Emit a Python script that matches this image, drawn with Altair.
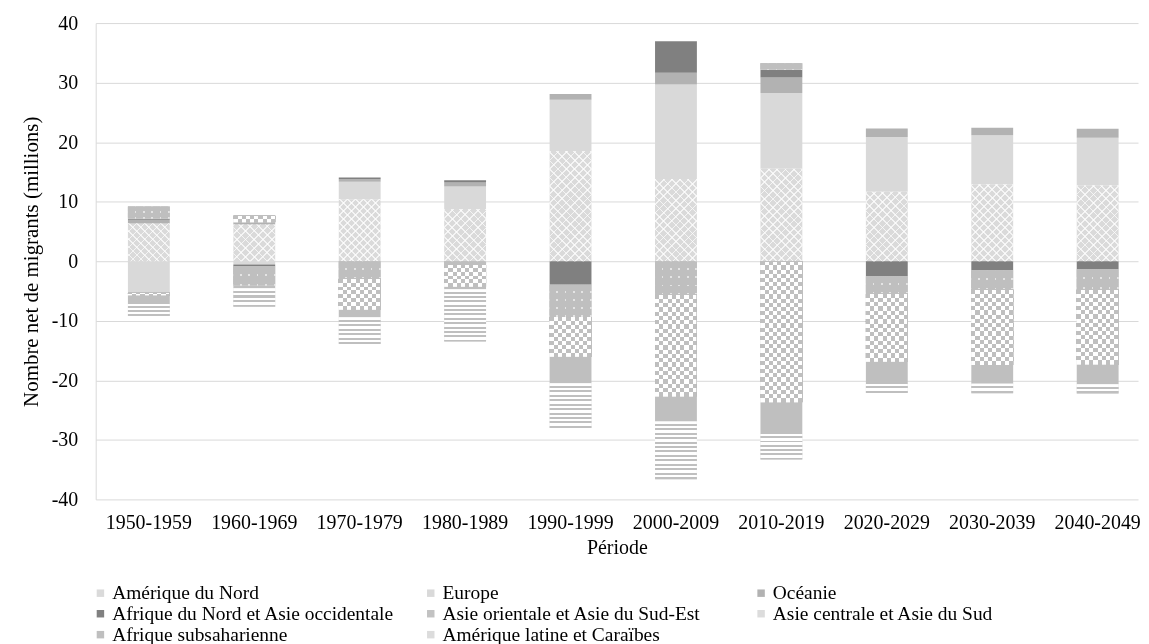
import altair as alt

# ---------------- data ----------------
periods = ["1950-1959", "1960-1969", "1970-1979", "1980-1989", "1990-1999",
           "2000-2009", "2010-2019", "2020-2029", "2030-2039", "2040-2049"]

series = ["Amérique du Nord", "Europe", "Océanie",
          "Afrique du Nord et Asie occidentale",
          "Asie orientale et Asie du Sud-Est",
          "Asie centrale et Asie du Sud",
          "Afrique subsaharienne",
          "Amérique latine et Caraïbes"]

amerique_nord = [6.35, 6.15, 10.43, 8.76, 18.5, 13.8, 15.55, 11.65, 12.95, 12.78]
europe = [-5.3, -0.55, 2.9, 3.78, 8.64, 15.9, 12.7, 9.2, 8.2, 7.96]
oceanie = [0.6, 0.4, 0.45, 0.67, 0.95, 1.95, 2.6, 1.45, 1.27, 1.5]
afrique_nord_asie_occ = [0.2, -0.25, 0.27, 0.4, -3.95, 5.3, 1.3, -2.55, -1.5, -1.4]
asie_orientale = [2.05, -3.3, -2.95, -0.6, -5.4, -5.6, 1.1, -2.9, -3.25, -3.33]
asie_centrale_sud = [-0.4, 1.1, -5.2, -3.7, -6.7, -17.1, -23.7, -11.45, -12.67, -12.6]
afrique_subsaharienne = [-1.5, -0.45, -1.25, -0.4, -4.45, -4.2, -5.3, -3.7, -3.15, -3.34]
amerique_latine = [-2.0, -3.1, -4.5, -8.8, -7.5, -9.7, -4.3, -1.55, -1.6, -1.53]

values = [amerique_nord, europe, oceanie, afrique_nord_asie_occ, asie_orientale,
          asie_centrale_sud, afrique_subsaharienne, amerique_latine]

colors = ["#dadada", "#d9d9d9", "#b2b2b2", "#808080", "#c2c2c2",
          "#dcdcdc", "#bfbfbf", "#dcdcdc"]

# ---------------- layout / style ----------------
FONT = "Liberation Serif"
TXT = "#000000"
FS = 20
W, H = 1046, 478
PAD_IN, PAD_OUT, ALIGN = 0.603, 0.245, 0.624
STEP = W / (len(periods) - PAD_IN + 2 * PAD_OUT)
BAR_W = STEP * (1 - PAD_IN)
PX = H / 80.0


def stripes(n, frac, c_first, c_second, x2, y2):
    n = max(1, int(round(n)))
    stops = []
    for i in range(n):
        a, b, c = i / n, (i + frac) / n, (i + 1) / n
        stops += [{"offset": a, "color": c_first}, {"offset": b, "color": c_first},
                  {"offset": b, "color": c_second}, {"offset": c, "color": c_second}]
    return {"gradient": "linear", "x1": 0, "y1": 0, "x2": x2, "y2": y2, "stops": stops}


def diag(w, h, spacing, frac, c_line, c_clear, flip):
    h = max(h, 0.5)
    k = (w + h) / (w * w + h * h)
    n = max(1, int(round((w + h) / spacing)))
    stops = []
    for i in range(n):
        a, b, c = i / n, (i + frac) / n, (i + 1) / n
        stops += [{"offset": a, "color": c_line}, {"offset": b, "color": c_line},
                  {"offset": b, "color": c_clear}, {"offset": c, "color": c_clear}]
    if flip:
        return {"gradient": "linear", "x1": 1, "y1": 0, "x2": 1 - k * w, "y2": k * h, "stops": stops}
    return {"gradient": "linear", "x1": 0, "y1": 0, "x2": k * w, "y2": k * h, "stops": stops}


LINE = "rgba(255,255,255,0.7)"
CLEAR = "rgba(255,255,255,0)"

records = []
for j, (name, vals) in enumerate(zip(series, values)):
    for p, v in zip(periods, vals):
        h = abs(v) * PX
        rec = {"period": p, "series": name, "order": j, "value": v,
               "ga": None, "gb": None, "gc": None, "ge": None}
        if j == 0:
            rec["ga"] = diag(BAR_W, h, 8.3, 0.2, LINE, CLEAR, False)
            rec["gb"] = diag(BAR_W, h, 8.3, 0.2, LINE, CLEAR, True)
        elif j == 7:
            rec["ga"] = stripes(h / 4.33, 0.55, "#ffffff", "#bfbfbf", 0, 1)
        elif j == 5:
            rec["ga"] = stripes(h / 8.4, 0.5, "#000000", "#ffffff", 0, 1)
            rec["gc"] = stripes(BAR_W / 8.4, 0.5, "#000000", "#ffffff", 1, 0)
        elif j == 4:
            rec["ga"] = stripes(h / 8.0, 0.8, "#bfbfbf", "#e4e4e4", 0, 1)
            rec["ge"] = stripes(BAR_W / 8.0, 0.8, "#bfbfbf", "#e4e4e4", 1, 0)
        records.append(rec)

data = alt.Data(values=records)

x_enc = alt.X("period:N", sort=periods,
              scale=alt.Scale(domain=periods, paddingInner=PAD_IN, paddingOuter=PAD_OUT, align=ALIGN),
              axis=alt.Axis(title="Période", labelAngle=0, ticks=False, domain=False, grid=False,
                            labelPadding=13, titlePadding=5,
                            labelFont=FONT, labelFontSize=FS, labelColor=TXT,
                            titleFont=FONT, titleFontSize=FS, titleFontWeight="normal", titleColor=TXT))
y_enc = alt.Y("y0:Q",
              scale=alt.Scale(domain=[-40, 40], nice=False, zero=False),
              axis=alt.Axis(title="Nombre net de migrants (millions)", values=list(range(-40, 41, 10)),
                            labelExpr="'' + datum.value", ticks=False, domain=True,
                            domainColor="#d9d9d9", gridColor="#d9d9d9", grid=True,
                            labelPadding=18, titlePadding=10,
                            labelFont=FONT, labelFontSize=FS, labelColor=TXT,
                            titleFont=FONT, titleFontSize=21, titleFontWeight="normal", titleColor=TXT))
y2_enc = alt.Y2("y1:Q")


def stacked():
    return alt.Chart().transform_stack(
        stack="value", groupby=["period"], as_=["y0", "y1"], offset="zero",
        sort=[alt.SortField(field="order", order="ascending")])


base = stacked().mark_bar().encode(
    x=x_enc, y=y_enc, y2=y2_enc,
    color=alt.Color("series:N", sort=series,
                    scale=alt.Scale(domain=series, range=colors),
                    legend=alt.Legend(title=None, orient="none", legendX=-5, legendY=562,
                                      direction="horizontal",
                                      columns=3, gridAlign="all", columnPadding=26.5, rowPadding=0,
                                      symbolType="square", symbolSize=56, symbolStrokeWidth=0,
                                      labelOffset=2, labelFont=FONT, labelFontSize=19.5,
                                      labelColor=TXT, labelLimit=400, padding=0)))

layer_a = stacked().transform_filter("isValid(datum.ga)").mark_bar().encode(
    x=x_enc, y=y_enc, y2=y2_enc, fill=alt.Fill("ga:N", scale=None, legend=None))
layer_b = stacked().transform_filter("isValid(datum.gb)").mark_bar().encode(
    x=x_enc, y=y_enc, y2=y2_enc, fill=alt.Fill("gb:N", scale=None, legend=None))
layer_c = stacked().transform_filter("isValid(datum.gc)").mark_bar(blend="difference").encode(
    x=x_enc, y=y_enc, y2=y2_enc, fill=alt.Fill("gc:N", scale=None, legend=None))
layer_d = stacked().transform_filter("isValid(datum.gc)").mark_bar(
    blend="lighten", color="#bfbfbf", stroke="#bfbfbf", strokeWidth=1.5).encode(
    x=x_enc, y=y_enc, y2=y2_enc)
layer_e = stacked().transform_filter("isValid(datum.ge)").mark_bar(blend="darken").encode(
    x=x_enc, y=y_enc, y2=y2_enc, fill=alt.Fill("ge:N", scale=None, legend=None))

chart = alt.layer(base, layer_a, layer_b, layer_c, layer_d, layer_e, data=data).properties(
    width=W, height=H,
    padding={"left": 12, "top": 4, "right": 0, "bottom": 0},
    background="white",
).configure_view(stroke=None)

chart.save("out.html", embed_options={"renderer": "svg", "actions": False})
